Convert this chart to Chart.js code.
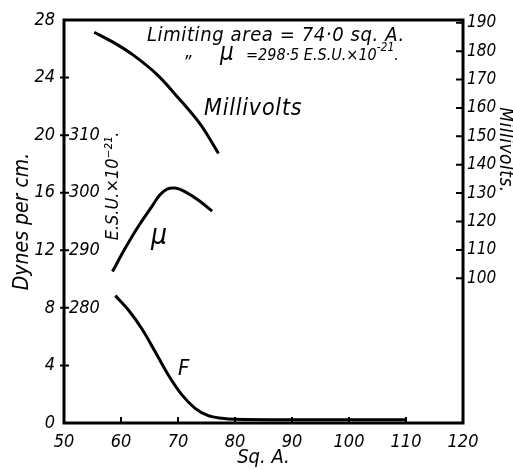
<!DOCTYPE html>
<html>
<head>
<meta charset="utf-8">
<script src="https://cdn.jsdelivr.net/npm/chart.js@4.4.1/dist/chart.umd.min.js"></script>
<style>
  html, body { margin: 0; padding: 0; background: #fff; }
</style>
</head>
<body>
<canvas id="chart" width="513" height="470"></canvas>
<script>
const FONT = '"DejaVu Sans Condensed", "Liberation Sans Narrow", "DejaVu Sans", sans-serif';

// axis ticks
const areaTicks = [50, 60, 70, 80, 90, 100, 110, 120];
const dynesTicks = [0, 4, 8, 12, 16, 20, 24, 28];
const muTicks = [280, 290, 300, 310];
const mvTicks = [100, 110, 120, 130, 140, 150, 160, 170, 180, 190];

// Millivolts (right axis)
const mvArea = [55.3, 58.6, 62.1, 66.2, 69.6, 73.9, 77.1];
const mvValues = [186.7, 183.2, 178.7, 172.0, 164.6, 154.3, 144.0];

// mu, E.S.U. x 10^-21 (inner left axis)
const muArea = [58.5, 60.7, 63.0, 65.4, 66.8, 68.0, 69.5, 71.2, 73.6, 76.0];
const muValues = [286.3, 290.3, 294.1, 297.6, 299.6, 300.6, 300.8, 300.2, 298.7, 296.8];

// F, dynes per cm (left axis)
const fArea = [59.0, 61.3, 63.6, 66.0, 68.3, 70.7, 73.0, 75.3, 77.7, 80, 90, 100, 110];
const fValues = [8.85, 7.85, 6.58, 4.95, 3.34, 1.95, 1.02, 0.51, 0.33, 0.26, 0.22, 0.22, 0.22];

const toPoints = (xs, ys) => xs.map((x, i) => ({ x: x, y: ys[i] }));
const fixTicks = list => scale => { scale.ticks = list.map(v => ({ value: v })); };

// a run of text pieces written one after another: [text, size, dy, spacing]
function writeRun(ctx, x, y, pieces) {
  pieces.forEach(p => {
    ctx.font = 'italic ' + p[1] + 'px ' + FONT;
    ctx.letterSpacing = (p[3] || 0) + 'px';
    ctx.fillText(p[0], x, y + (p[2] || 0));
    x += ctx.measureText(p[0]).width;
  });
  ctx.letterSpacing = '0px';
}

// frame, inward tick marks and the labels written on the plot
const decorations = {
  id: 'decorations',
  afterDraw(chart) {
    const ctx = chart.ctx;
    const a = chart.chartArea;
    const sx = chart.scales.x, sy = chart.scales.y, s2 = chart.scales.y2;
    ctx.save();
    ctx.strokeStyle = '#000';
    ctx.lineWidth = 3;
    ctx.strokeRect(a.left, a.top, a.right - a.left, a.bottom - a.top);

    ctx.lineWidth = 2;
    ctx.beginPath();
    sy.ticks.forEach(t => {
      const y = sy.getPixelForValue(t.value);
      if (y > a.top + 2 && y < a.bottom - 2) { ctx.moveTo(a.left - 4, y); ctx.lineTo(a.left + 5, y); }
    });
    sx.ticks.forEach(t => {
      const x = sx.getPixelForValue(t.value);
      if (x > a.left + 2 && x < a.right - 2) { ctx.moveTo(x, a.bottom); ctx.lineTo(x, a.bottom - 6); }
    });
    s2.ticks.forEach(t => {
      const y = s2.getPixelForValue(t.value);
      if (y > a.top + 2) { ctx.moveTo(a.right, y); ctx.lineTo(a.right - 7, y); }
    });
    ctx.stroke();

    ctx.fillStyle = '#000';
    ctx.textBaseline = 'alphabetic';
    ctx.textAlign = 'left';
    writeRun(ctx, 147, 41, [['Limiting area = 74·0 sq. A.', 20, 0, 0.6]]);
    writeRun(ctx, 183, 68, [['”', 18]]);
    writeRun(ctx, 220, 60, [['μ', 24]]);
    writeRun(ctx, 246, 60, [['=298·5 E.S.U.×10', 16], ['-21', 12, -9], ['.', 16]]);
    writeRun(ctx, 204, 115, [['Millivolts', 23, 0, 0.8]]);
    writeRun(ctx, 151, 244, [['μ', 28]]);
    writeRun(ctx, 178, 375, [['F', 22]]);

    // right axis title
    ctx.save();
    ctx.translate(500, 150);
    ctx.rotate(Math.PI / 2);
    ctx.textAlign = 'center';
    ctx.font = 'italic 19px ' + FONT;
    ctx.letterSpacing = '0.5px';
    ctx.fillText('Millivolts.', 0, 0);
    ctx.restore();

    // mu axis title
    ctx.save();
    ctx.translate(118, 186);
    ctx.rotate(-Math.PI / 2);
    ctx.textAlign = 'center';
    ctx.font = 'italic 18px ' + FONT;
    ctx.fillText('E.S.U.×10⁻²¹.', 0, 0);
    ctx.restore();

    ctx.restore();
  }
};

const lineStyle = {
  borderColor: '#000',
  borderWidth: 3,
  pointRadius: 0,
  fill: false,
  tension: 0.35
};

new Chart(document.getElementById('chart'), {
  type: 'line',
  data: {
    datasets: [
      Object.assign({ label: 'Millivolts', data: toPoints(mvArea, mvValues), yAxisID: 'y2' }, lineStyle),
      Object.assign({ label: 'μ', data: toPoints(muArea, muValues), yAxisID: 'mu' }, lineStyle),
      Object.assign({ label: 'F', data: toPoints(fArea, fValues), yAxisID: 'y' }, lineStyle)
    ]
  },
  options: {
    responsive: false,
    animation: false,
    layout: { padding: { top: 20, left: 0, right: 0, bottom: 0 } },
    plugins: { legend: { display: false }, tooltip: { enabled: false } },
    scales: {
      x: {
        type: 'linear', min: 50, max: 120,
        afterBuildTicks: fixTicks(areaTicks),
        afterFit: s => { s.height = 47; },
        grid: { display: false, drawTicks: false },
        border: { display: false },
        ticks: { color: '#000', padding: 9, maxRotation: 0, font: { family: FONT, size: 18, style: 'italic' } },
        title: { display: true, text: 'Sq. A.', color: '#000', padding: { top: -9, bottom: 0 }, font: { family: FONT, size: 20, style: 'italic' } }
      },
      mu: {
        type: 'linear', position: 'left', min: 260, max: 330,
        afterBuildTicks: fixTicks(muTicks),
        afterFit: s => { s.width = 0; },
        grid: { display: false, drawTicks: false },
        border: { display: false },
        ticks: { color: '#000', mirror: true, padding: 5, font: { family: FONT, size: 18, style: 'italic' } }
      },
      y: {
        type: 'linear', position: 'left', min: 0, max: 28,
        afterBuildTicks: fixTicks(dynesTicks),
        afterFit: s => { s.width = 64; },
        grid: { display: false, drawTicks: false },
        border: { display: false },
        ticks: { color: '#000', padding: 9, font: { family: FONT, size: 18, style: 'italic' } },
        title: { display: true, text: 'Dynes per cm.', color: '#000', padding: { top: 10, bottom: 0 }, font: { family: FONT, size: 21, style: 'italic' } }
      },
      y2: {
        type: 'linear', position: 'right', min: 49, max: 191,
        afterBuildTicks: fixTicks(mvTicks),
        afterFit: s => { s.width = 50; },
        grid: { display: false, drawTicks: false },
        border: { display: false },
        ticks: { color: '#000', padding: 4, font: { family: FONT, size: 17, style: 'italic' } }
      }
    }
  },
  plugins: [decorations]
});
</script>
</body>
</html>
